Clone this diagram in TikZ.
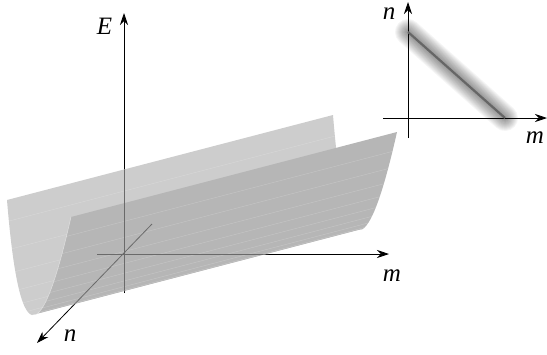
\documentclass[tikz,border=0pt]{standalone}
\usepackage{fontspec}
\newfontfamily\lblfont{Liberation Serif Italic}
\usetikzlibrary{arrows.meta}
\definecolor{backwall}{HTML}{CDCDCD}
\definecolor{frontwall}{HTML}{B6B6B6}
\definecolor{inaxis}{HTML}{6A6A6A}
\definecolor{diagline}{HTML}{666666}
\begin{document}
\begin{tikzpicture}[x=1pt,y=-1pt,
  axis/.style={line width=0.8pt,-{Stealth[length=12pt,width=8pt,inset=4pt]}},
  lbl/.style={font=\fontsize{25}{29}\lblfont, inner sep=0pt},
  mesh/.style={white, opacity=0.22, line width=0.4pt}]
\useasboundingbox (0,0) rectangle (547,354);

% ---- main axes (drawn below the surface)
\coordinate (Ebot) at (124,293);
\coordinate (Etop) at (124,13);
\coordinate (mstart) at (97,254);
\coordinate (mend) at (389,254);
\coordinate (nstart) at (152,224);
\coordinate (nend) at (37,343);
\draw[axis] (Ebot) -- (Etop);
\draw[axis] (mstart) -- (mend);
\draw[axis] (nstart) -- (nend);

% ---- trough: back inner wall
\fill[backwall] (7,200) -- (333,115) .. controls (339,188.83) and (347.33,227.17) .. (358,230)
  -- (32,315) .. controls (21.33,312.17) and (13,273.83) .. (7,200) -- cycle;
\foreach \t in {-0.9,-0.75,...,-0.05}
  \draw[mesh] ({32+32*\t+7*\t*\t},{315+8.5*\t-106.5*\t*\t}) -- ++(326,-85);
% ---- trough: front outer wall
\fill[frontwall] (71,217) -- (397,132) .. controls (381.67,200.17) and (368.67,232.83) .. (358,230)
  -- (32,315) .. controls (42.67,317.83) and (55.67,285.17) .. (71,217) -- cycle;
\foreach \t in {0.1,0.2,...,0.95}
  \draw[mesh] ({32+32*\t+7*\t*\t},{315+8.5*\t-106.5*\t*\t}) -- ++(326,-85);
\draw[white, opacity=0.5, line width=0.5pt] (71,217) .. controls (55.67,285.17) and (42.67,317.83) .. (32,315);

% ---- axes seen through the surface
\begin{scope}
  \clip (7,200) -- (333,115) .. controls (339,188.83) and (347.33,227.17) .. (358,230)
    -- (32,315) .. controls (21.33,312.17) and (13,273.83) .. (7,200) -- cycle
    (71,217) -- (397,132) .. controls (381.67,200.17) and (368.67,232.83) .. (358,230)
    -- (32,315) .. controls (42.67,317.83) and (55.67,285.17) .. (71,217) -- cycle;
  \draw[inaxis, line width=0.8pt] (Ebot) -- (Etop);
  \draw[inaxis, line width=0.8pt] (mstart) -- (mend);
  \draw[inaxis, line width=0.8pt] (nstart) -- (nend);
\end{scope}

% ---- labels
\node[lbl] (Elbl) at (104.5,26) {E};
\node[lbl] (mlbl) at (392,276) {m};
\node[lbl] (nlbl) at (70,336) {n};

% ---- inset
\coordinate (ia) at (408,32);
\coordinate (ib) at (505,118);
\foreach \w in {2,4,...,26}
  \draw[black, opacity=0.04, line width=\w pt, line cap=round, shift={(4,4)}] (ia) -- (ib);
\coordinate (inb) at (408,138);
\coordinate (int) at (408,2);
\coordinate (iml) at (383,118);
\coordinate (imr) at (547,118);
\draw[axis] (inb) -- (int);
\draw[axis] (iml) -- (imr);
\draw[diagline, line width=2.2pt] (ia) -- (ib);
\node[lbl] (inlbl) at (389,14) {n};
\node[lbl] (imlbl) at (535,138) {m};
\end{tikzpicture}
\end{document}
